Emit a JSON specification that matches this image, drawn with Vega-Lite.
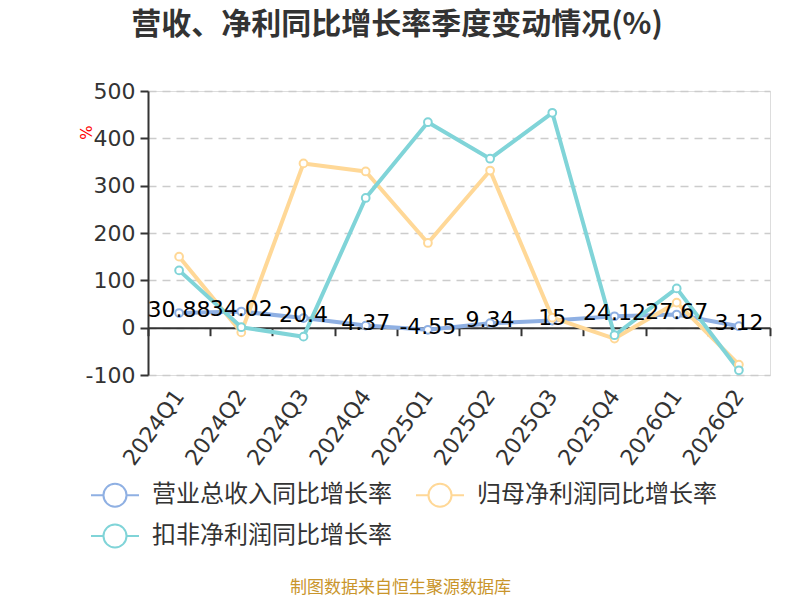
{
  "$schema": "https://vega.github.io/schema/vega-lite/v6.json",
  "width": 622,
  "height": 284,
  "autosize": {"type": "none"},
  "padding": {"left": 148, "top": 91, "right": 30, "bottom": 225},
  "background": "white",
  "title": {
    "text": "营收、净利同比增长率季度变动情况(%)",
    "font": "Noto Sans CJK SC",
    "fontSize": 30,
    "fontWeight": "bold",
    "color": "#333333",
    "anchor": "middle",
    "dx": -62,
    "offset": 40
  },
  "data": {
    "values": [
      {"q": "2024Q1", "s": "营业总收入同比增长率", "v": 30.88},
      {"q": "2024Q2", "s": "营业总收入同比增长率", "v": 34.02},
      {"q": "2024Q3", "s": "营业总收入同比增长率", "v": 20.4},
      {"q": "2024Q4", "s": "营业总收入同比增长率", "v": 4.37},
      {"q": "2025Q1", "s": "营业总收入同比增长率", "v": -4.55},
      {"q": "2025Q2", "s": "营业总收入同比增长率", "v": 9.34},
      {"q": "2025Q3", "s": "营业总收入同比增长率", "v": 15},
      {"q": "2025Q4", "s": "营业总收入同比增长率", "v": 24.12},
      {"q": "2026Q1", "s": "营业总收入同比增长率", "v": 27.67},
      {"q": "2026Q2", "s": "营业总收入同比增长率", "v": 3.12},
      {"q": "2024Q1", "s": "归母净利润同比增长率", "v": 150},
      {"q": "2024Q2", "s": "归母净利润同比增长率", "v": -10},
      {"q": "2024Q3", "s": "归母净利润同比增长率", "v": 347},
      {"q": "2024Q4", "s": "归母净利润同比增长率", "v": 330},
      {"q": "2025Q1", "s": "归母净利润同比增长率", "v": 179},
      {"q": "2025Q2", "s": "归母净利润同比增长率", "v": 332},
      {"q": "2025Q3", "s": "归母净利润同比增长率", "v": 21},
      {"q": "2025Q4", "s": "归母净利润同比增长率", "v": -23},
      {"q": "2026Q1", "s": "归母净利润同比增长率", "v": 53},
      {"q": "2026Q2", "s": "归母净利润同比增长率", "v": -78},
      {"q": "2024Q1", "s": "扣非净利润同比增长率", "v": 121},
      {"q": "2024Q2", "s": "扣非净利润同比增长率", "v": 1},
      {"q": "2024Q3", "s": "扣非净利润同比增长率", "v": -19},
      {"q": "2024Q4", "s": "扣非净利润同比增长率", "v": 274},
      {"q": "2025Q1", "s": "扣非净利润同比增长率", "v": 434},
      {"q": "2025Q2", "s": "扣非净利润同比增长率", "v": 357},
      {"q": "2025Q3", "s": "扣非净利润同比增长率", "v": 454},
      {"q": "2025Q4", "s": "扣非净利润同比增长率", "v": -16},
      {"q": "2026Q1", "s": "扣非净利润同比增长率", "v": 83},
      {"q": "2026Q2", "s": "扣非净利润同比增长率", "v": -90}
    ]
  },
  "encoding": {
    "x": {
      "field": "q",
      "type": "ordinal",
      "sort": null,
      "scale": {"type": "band", "paddingInner": 0, "paddingOuter": 0},
      "axis": {
        "title": "制图数据来自恒生聚源数据库",
        "titleFont": "Noto Sans CJK SC",
        "titleFontSize": 17,
        "titleFontWeight": "normal",
        "titleColor": "#c9952b",
        "titleX": 252,
        "titleY": 260,
        "titleAlign": "center",
        "titleBaseline": "middle",
        "titleAngle": 0,
        "offset": -47.3,
        "tickBand": "extent",
        "tickSize": 8,
        "tickWidth": 2,
        "tickColor": "#333333",
        "domainColor": "#333333",
        "domainWidth": 2,
        "grid": false,
        "labelAngle": -54,
        "labelFont": "DejaVu Sans",
        "labelFontSize": 22,
        "labelColor": "#333333",
        "labelPadding": 56
      }
    },
    "y": {
      "field": "v",
      "type": "quantitative",
      "scale": {"domain": [-100, 500], "nice": false, "zero": false},
      "axis": {
        "values": [-100, 0, 100, 200, 300, 400, 500],
        "labelExpr": "replace(datum.label, '−', '-')",
        "title": "%",
        "titleFont": "DejaVu Sans",
        "titleFontSize": 15,
        "titleFontWeight": "normal",
        "titleColor": "#ff0000",
        "titleAngle": -90,
        "titleX": -62,
        "titleY": 41,
        "titleAlign": "center",
        "titleBaseline": "middle",
        "labelFont": "DejaVu Sans",
        "labelFontSize": 22,
        "labelColor": "#333333",
        "labelPadding": 5,
        "tickSize": 8,
        "tickWidth": 2,
        "tickColor": "#333333",
        "domainColor": "#333333",
        "domainWidth": 2,
        "grid": true,
        "gridColor": "#cccccc",
        "gridDash": [8, 6],
        "gridWidth": 1.5
      }
    }
  },
  "layer": [
    {
      "mark": {"type": "line", "strokeWidth": 4, "strokeCap": "round", "strokeJoin": "round"},
      "encoding": {
        "color": {
          "field": "s",
          "type": "nominal",
          "scale": {
            "domain": ["营业总收入同比增长率", "归母净利润同比增长率", "扣非净利润同比增长率"],
            "range": ["#8fb0e3", "#ffd897", "#80d4d8"]
          },
          "legend": {
            "orient": "none",
            "legendX": -58,
            "legendY": 379,
            "direction": "horizontal",
            "columns": 2,
            "title": null,
            "symbolType": "M-1,0L-0.48,0M0.48,0L1,0M-0.48,0A0.48,0.48,0,1,1,0.48,0A0.48,0.48,0,1,1,-0.48,0",
            "symbolSize": 2304,
            "symbolStrokeWidth": 2,
            "symbolFillColor": "white",
            "labelFont": "Noto Sans CJK SC",
            "labelFontSize": 24,
            "labelColor": "#333333",
            "labelLimit": 0,
            "labelOffset": 12,
            "columnPadding": 20,
            "rowPadding": -2
          }
        }
      }
    },
    {
      "mark": {"type": "point", "filled": false, "fill": "white", "fillOpacity": 1, "opacity": 1, "strokeWidth": 2, "size": 60},
      "encoding": {
        "color": {"field": "s", "type": "nominal", "legend": null}
      }
    },
    {
      "transform": [{"filter": "datum.s === '营业总收入同比增长率'"}],
      "mark": {"type": "text", "font": "DejaVu Sans", "fontSize": 22, "color": "#000000", "baseline": "middle", "align": "center", "dy": -3},
      "encoding": {
        "text": {"field": "v", "type": "nominal"}
      }
    }
  ]
}
